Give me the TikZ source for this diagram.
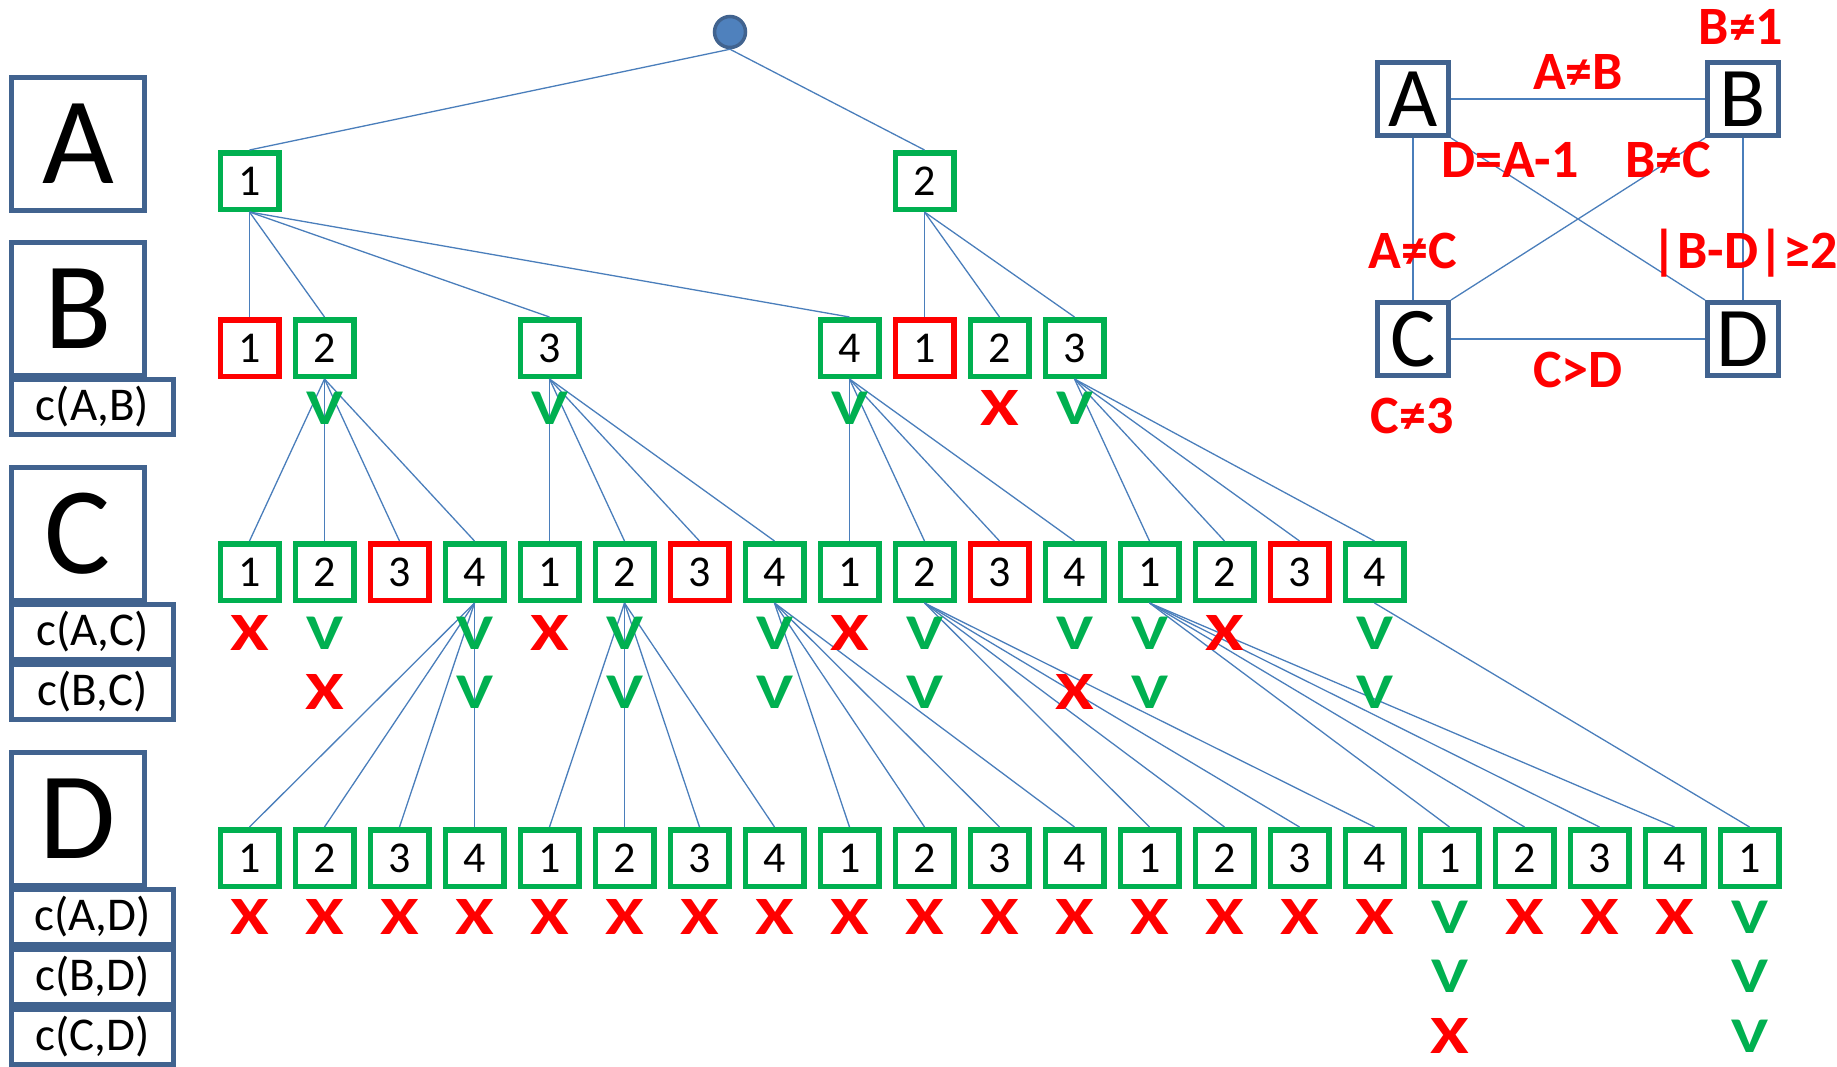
\documentclass[tikz,border=0pt]{standalone}
\usepackage{fontspec}
\setmainfont{Carlito}
\usepackage{tikz}
\usetikzlibrary{calc}

\definecolor{okgreen}{HTML}{00B050}
\definecolor{badred}{HTML}{FF0000}
\definecolor{lineblue}{HTML}{4A7EBB}
\definecolor{frameblue}{HTML}{41638F}
\definecolor{rootblue}{HTML}{4F81BD}

\newcommand{\fsz}[1]{\fontsize{#1}{#1}\selectfont}
\newcommand{\yesV}{\scalebox{1.25}[1]{V}}
\newcommand{\noX}{\scalebox{1.3}[1]{X}}

\tikzset{
  valbox/.style={draw=okgreen,line width=5.5pt,minimum width=58.5pt,minimum height=56.5pt,inner sep=0pt,font=\fsz{44}},
  badbox/.style={valbox,draw=badred},
  branch/.style={draw=lineblue,line width=1.3pt},
  okmark/.style={text=okgreen,font=\fsz{50}\bfseries,inner sep=0pt},
  badmark/.style={text=badred,font=\fsz{54}\bfseries,inner sep=0pt},
  varbox/.style={draw=frameblue,line width=5pt,fill=white,inner sep=0pt,minimum width=133pt,minimum height=133pt,font=\fsz{124}},
  consbox/.style={draw=frameblue,line width=5pt,fill=white,inner sep=0pt,minimum width=162pt,minimum height=55pt,font=\fsz{47}},
  gvar/.style={draw=frameblue,line width=5pt,inner sep=0pt,minimum width=71pt,minimum height=73pt,font=\fsz{85}},
  conslabel/.style={text=badred,font=\fsz{54}\bfseries,inner sep=0pt},
}

\begin{document}
\begin{tikzpicture}[x=1pt,y=-1pt]
\useasboundingbox (0,0) rectangle (1837,1066);

% variables and constraint checks, left column
\foreach \n/\y in {A/144,B/308.5,C/533.5,D/818.5}
  \node[varbox] (var\n) at (78,\y) {\n};
\foreach \n/\t/\y in {ab/{c(A,B)}/407,ac/{c(A,C)}/632,bc/{c(B,C)}/692,ad/{c(A,D)}/917,bd/{c(B,D)}/977,cd/{c(C,D)}/1037}
  \node[consbox] (chk\n) at (92.5,\y) {\t};

% search tree
\node[circle,fill=rootblue,draw=frameblue,line width=3.5pt,minimum size=31pt,inner sep=0pt] (root) at (730,32) {};
\node[valbox] (a0) at (249.5,181) {1};
\node[valbox] (a9) at (924.5,181) {2};

\foreach \i/\v/\s in {0/1/badbox,1/2/valbox,4/3/valbox,8/4/valbox,9/1/badbox,10/2/valbox,11/3/valbox}
  \node[\s] (b\i) at ({249.5+75*\i},348) {\v};

\foreach \i/\v/\s in {0/1/valbox,1/2/valbox,2/3/badbox,3/4/valbox,4/1/valbox,5/2/valbox,6/3/badbox,7/4/valbox,
                      8/1/valbox,9/2/valbox,10/3/badbox,11/4/valbox,12/1/valbox,13/2/valbox,14/3/badbox,15/4/valbox}
  \node[\s] (c\i) at ({249.5+75*\i},572) {\v};

\foreach \i in {0,...,20} {
  \pgfmathtruncatemacro{\v}{mod(\i,4)+1}
  \node[valbox] (d\i) at ({249.5+75*\i},858) {\v};
}

% branches
\draw[branch] (root.south) -- (a0.north) (root.south) -- (a9.north);
\foreach \c in {0,1,4,8} \draw[branch] (a0.south) -- (b\c.north);
\foreach \c in {9,10,11} \draw[branch] (a9.south) -- (b\c.north);
\foreach \p/\f/\l in {b1/0/3,b4/4/7,b8/8/11,b11/12/15}
  \foreach \c in {\f,...,\l} \draw[branch] (\p.south) -- (c\c.north);
\foreach \p/\f/\l in {c3/0/3,c5/4/7,c7/8/11,c9/12/15,c12/16/19,c15/20/20}
  \foreach \c in {\f,...,\l} \draw[branch] (\p.south) -- (d\c.north);

% check results
\foreach \i/\m/\s in {1/\yesV/okmark,4/\yesV/okmark,8/\yesV/okmark,10/\noX/badmark,11/\yesV/okmark}
  \node[\s] (mab\i) at ({249.5+75*\i},408) {\m};
\foreach \i/\m/\s in {0/\noX/badmark,1/\yesV/okmark,3/\yesV/okmark,4/\noX/badmark,5/\yesV/okmark,7/\yesV/okmark,
                      8/\noX/badmark,9/\yesV/okmark,11/\yesV/okmark,12/\yesV/okmark,13/\noX/badmark,15/\yesV/okmark}
  \node[\s] (mac\i) at ({249.5+75*\i},633) {\m};
\foreach \i/\m/\s in {1/\noX/badmark,3/\yesV/okmark,5/\yesV/okmark,7/\yesV/okmark,9/\yesV/okmark,11/\noX/badmark,12/\yesV/okmark,15/\yesV/okmark}
  \node[\s] (mbc\i) at ({249.5+75*\i},692) {\m};
\foreach \i in {0,...,15,17,18,19}
  \node[badmark] (mad\i) at ({249.5+75*\i},917) {\noX};
\node[okmark] (mad16) at ($(d16)+(0,59)$) {\yesV};
\node[okmark] (mad20) at ($(d20)+(0,59)$) {\yesV};
\node[okmark] (mbd16) at ($(d16)+(0,118)$) {\yesV};
\node[okmark] (mbd20) at ($(d20)+(0,118)$) {\yesV};
\node[badmark] (mcd16) at ($(d16)+(0,178)$) {\noX};
\node[okmark] (mcd20) at ($(d20)+(0,178)$) {\yesV};

% constraint graph
\node[gvar] (gA) at (1413,99) {A};
\node[gvar] (gB) at (1743,99) {B};
\node[gvar] (gC) at (1413,339) {C};
\node[gvar] (gD) at (1743,339) {D};
\draw[branch] (gA.east) -- (gB.west);
\draw[branch] (gA.south) -- (gC.north);
\draw[branch] (gB.south) -- (gD.north);
\draw[branch] (gC.east) -- (gD.west);
\draw[branch] (gA.south east) -- (gD.north west);
\draw[branch] (gB.south west) -- (gC.north east);

\node[conslabel] (lB1) at (1741,27) {B≠1};
\node[conslabel] (lAB) at (1578,72) {A≠B};
\node[conslabel] (lDA) at (1510,160) {D=A-1};
\node[conslabel] (lBC) at (1668,160) {B≠C};
\node[conslabel] (lAC) at (1413,251) {A≠C};
\node[conslabel] (lBD) at (1745,253) {|B-D|≥2};
\node[conslabel] (lCD) at (1578,370) {C>D};
\node[conslabel] (lC3) at (1412,416) {C≠3};

\end{tikzpicture}
\end{document}
